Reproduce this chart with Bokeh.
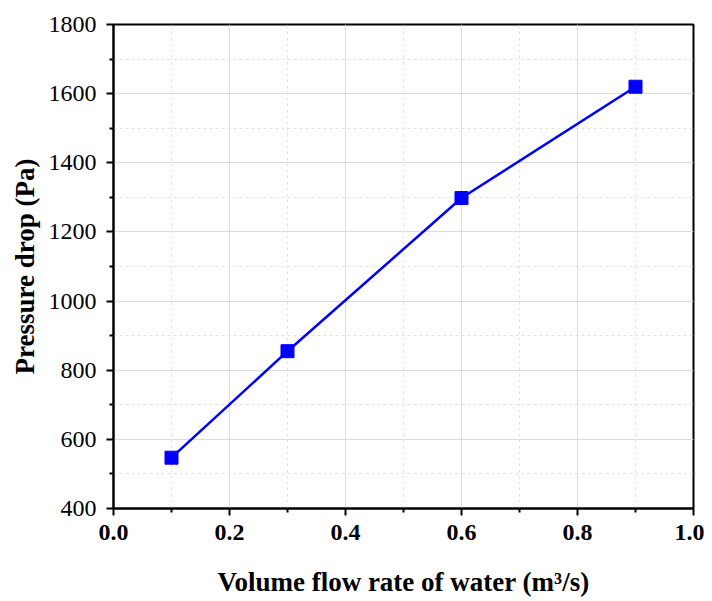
from bokeh.plotting import figure
from bokeh.models import FixedTicker, Range1d
from bokeh.embed import file_html
from bokeh.resources import INLINE

flow_rate = [0.1, 0.3, 0.6, 0.9]
pressure_drop = [547, 855, 1298, 1620]
x_ticks = [0.0, 0.2, 0.4, 0.6, 0.8, 1.0]
x_minor = [0.1, 0.3, 0.5, 0.7, 0.9]
y_ticks = [400, 600, 800, 1000, 1200, 1400, 1600, 1800]
y_minor = [500, 700, 900, 1100, 1300, 1500, 1700]

FONT = '"Liberation Serif"'

p = figure(width=704, height=600, output_backend="svg", toolbar_location=None,
           x_range=Range1d(0.0, 1.0), y_range=Range1d(400, 1800),
           min_border_left=113, min_border_top=24, min_border_right=11, min_border_bottom=92)

p.xaxis.ticker = FixedTicker(ticks=x_ticks, minor_ticks=x_minor)
p.yaxis.ticker = FixedTicker(ticks=y_ticks, minor_ticks=y_minor)
p.xaxis.major_label_overrides = {t: f"{t:.1f}" for t in x_ticks}

p.xgrid.grid_line_color = "#dcdcdc"
p.ygrid.grid_line_color = "#dcdcdc"
p.xgrid.grid_line_width = 1
p.ygrid.grid_line_width = 1
p.xgrid.minor_grid_line_color = "#e2e2e2"
p.ygrid.minor_grid_line_color = "#e2e2e2"
p.xgrid.minor_grid_line_dash = "3 3"
p.ygrid.minor_grid_line_dash = "3 3"

for ax in (p.xaxis, p.yaxis):
    ax.axis_line_width = 2
    ax.axis_line_color = "black"
    ax.major_tick_line_width = 2
    ax.minor_tick_line_width = 2
    ax.major_tick_line_color = "black"
    ax.minor_tick_line_color = "black"
    ax.major_tick_in = 0
    ax.major_tick_out = 7
    ax.minor_tick_in = 0
    ax.minor_tick_out = 4
    ax.major_label_text_font = FONT
    ax.major_label_text_font_size = "24px"
    ax.major_label_text_color = "black"
    ax.axis_label_text_font = FONT
    ax.axis_label_text_font_size = "27px"
    ax.axis_label_text_font_style = "bold"
    ax.axis_label_text_color = "black"

p.xaxis.major_label_text_font_style = "bold"
p.xaxis.major_label_standoff = 9
p.yaxis.major_label_standoff = 10
p.xaxis.axis_label = "Volume flow rate of water (m³/s)"
p.yaxis.axis_label = "Pressure drop (Pa)"
p.xaxis.axis_label_standoff = 24
p.yaxis.axis_label_standoff = 6

p.outline_line_color = "black"
p.outline_line_width = 2

p.line(flow_rate, pressure_drop, line_color="#0000ff", line_width=2.5)
p.scatter(flow_rate, pressure_drop, marker="square", size=13, fill_color="#0000ff",
          line_color="#0000ff")

open("out.html", "w").write(file_html(p, INLINE))
